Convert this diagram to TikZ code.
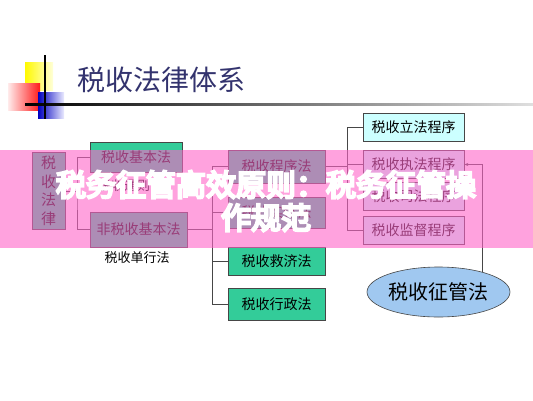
\documentclass[tikz,border=0pt]{standalone}
\usepackage{fontspec}
\setmainfont{Noto Sans CJK SC}
\newfontfamily\bannerfont[FakeBold=8]{Noto Sans CJK SC}
\usetikzlibrary{shapes.geometric, arrows.meta}
\definecolor{titleblue}{RGB}{51,51,110}
\definecolor{boxgreen}{RGB}{51,204,153}
\definecolor{boxcyan}{RGB}{204,255,255}
\definecolor{ovalblue}{RGB}{160,200,240}
\definecolor{linegray}{RGB}{70,70,70}
\definecolor{bannerpink}{RGB}{255,100,200}
\begin{document}
\begin{tikzpicture}[x = 1pt, y = -1pt,
        lawbox/.style = {draw = linegray, line width = 0.6pt, fill = boxgreen, inner sep = 0pt, font = \fontsize{14}{16}\selectfont},
        procbox/.style = {draw = linegray, line width = 0.6pt, fill = boxcyan, inner sep = 0pt, minimum width = 101pt, minimum height = 28pt, font = \fontsize{14}{16}\selectfont},
        wire/.style = {draw = linegray, line width = 0.6pt}]
    \useasboundingbox[fill = white] (0, 0) rectangle (533, 400);
    % title
    \shade[left color = yellow!95!orange, right color = yellow!15] (25, 62) rectangle (53, 90);
    \shade[left color = red!8, right color = red!90] (8, 83) rectangle (40, 110);
    \shade[left color = blue!75!black, right color = blue!8] (38, 92) rectangle (64, 118);
    \shade[left color = black, right color = gray!25] (25, 103) rectangle (533, 105);
    \draw[line width = 1.4pt] (45, 55) -- (45, 119);
    \node[text = titleblue, font = \fontsize{28}{30}\selectfont] (title) at (161, 80) {税收法律体系};
    % left part
    \node[lawbox, minimum width = 33pt, minimum height = 77pt, align = center, font = \fontsize{15}{18.5}\selectfont] (law) at (48.5, 191) {税\\收\\法\\律};
    \node[lawbox, minimum width = 92pt, minimum height = 30pt] (basic) at (136, 157) {税收基本法};
    \node[font = \fontsize{13}{15}\selectfont] (tongze) at (124, 186) {税收通则};
    \node[lawbox, minimum width = 97pt, minimum height = 35pt] (nonbasic) at (138.5, 229.5) {非税收基本法};
    \node[font = \fontsize{13}{15}\selectfont] (danxing) at (137, 258) {税收单行法};
    \coordinate (jl) at (77, 191);
    \draw[wire] (law) -- (jl);
    \draw[wire] (basic.west) -| (jl) |- (nonbasic.west);
    % middle part
    \foreach \v/\t/\y/\h in {proc/税收程序法/166.5/33, subst/税收实体法/212.5/31, relief/税收救济法/261/28, admin/税收行政法/304/32}{
        \node[lawbox, minimum width = 97pt, minimum height = \h pt] (\v) at (276.5, \y) {\t};
    }
    \coordinate (jm) at (212, 229.5);
    \draw[wire] (nonbasic.east) -- (jm);
    \foreach \v in {proc, subst, relief, admin}{
        \draw[wire] (jm) |- (\v.west);
    }
    % right part
    \foreach \v/\t/\y in {legis/税收立法程序/127, enforce/税收执法程序/164.5, judic/税收司法程序/196.5, superv/税收监督程序/230}{
        \node[procbox] (\v) at (413.5, \y) {\t};
    }
    \coordinate (jr) at (347, 166.5);
    \draw[wire] (proc.east) -- (jr);
    \foreach \v in {legis, enforce, judic, superv}{
        \draw[wire] (jr) |- (\v.west);
    }
    \node[ellipse, draw = linegray, line width = 0.6pt, fill = ovalblue, minimum width = 143pt, minimum height = 50pt, inner sep = 0pt, font = \fontsize{20}{22}\selectfont] (zhengguan) at (438.5, 292) {税收征管法};
    \coordinate (ct) at (482, 272);
    \draw[wire, -{Stealth[length = 4pt, width = 3pt]}] (ct) |- (enforce.east);
    % banner
    \fill[bannerpink, opacity = 0.6] (0, 150) rectangle (533, 248);
    \node[text = white, align = center, font = \bannerfont\fontsize{30}{33}\selectfont] (banner) at (266, 201) {税务征管高效原则：税务征管操\\作规范};
\end{tikzpicture}
\end{document}
